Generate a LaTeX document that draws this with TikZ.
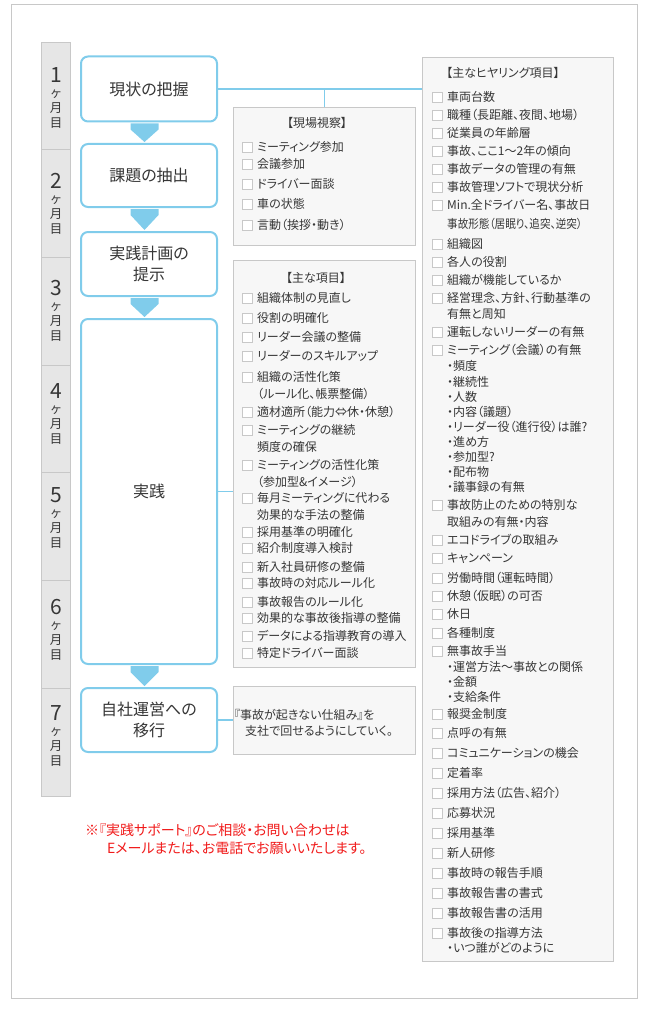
\documentclass[tikz,border=0pt]{standalone}
\usepackage{fontspec}
\newfontfamily\jpfont[RawFeature=+palt]{Noto Sans CJK JP}
\usepackage{tikz}
\usetikzlibrary{positioning,calc}

\definecolor{flowblue}{HTML}{80CCEB}
\definecolor{framegray}{HTML}{C8C8C8}
\definecolor{panelgray}{HTML}{F7F7F7}
\definecolor{monthgray}{HTML}{E6E6E6}
\definecolor{inkgray}{HTML}{363636}
\definecolor{notered}{HTML}{F01A1A}

% block arrow between two stage boxes
\newcommand\flowdown[2]{%
  \fill[flowfill] ($(#1.south)+(-18.5,1)$) -- ($(#1.south)+(9.5,1)$)
    -- ($(#1.south)+(9.5,7)$) -- ($(#2.north)+(-4.5,-1)$)
    -- ($(#1.south)+(-18.5,7)$) -- cycle;}

\begin{document}
\begin{tikzpicture}[
  x=1pt, y=-1pt,
  font=\jpfont, text=inkgray,
  monthcell/.style={draw=framegray, fill=monthgray, line width=0.8pt,
                    minimum width=29pt, minimum height=107.7pt, inner sep=0pt},
  monthnum/.style={font=\jpfont\fontsize{21}{21}\selectfont, inner sep=0pt},
  monthkana/.style={font=\jpfont\fontsize{12.5}{15}\selectfont, align=center,
                    inner sep=0pt},
  stagebox/.style={draw=flowblue, line width=2pt, rounded corners=7pt,
                   fill=white, minimum width=136pt, align=center,
                   font=\jpfont\fontsize{16}{21}\selectfont},
  panelbox/.style={draw=framegray, fill=panelgray, line width=0.8pt,
                   inner sep=0pt},
  listhead/.style={font=\jpfont\fontsize{12}{14}\selectfont, inner sep=0pt},
  listitem/.style={anchor=west, inner sep=0pt,
                   font=\jpfont\fontsize{12}{14}\selectfont},
  chkbox/.style={draw=framegray, fill=white, line width=0.6pt,
                 minimum size=10pt, inner sep=0pt},
  linkline/.style={draw=flowblue, line width=1.8pt},
  flowfill/.style={fill=flowblue},
  notetext/.style={anchor=west, inner sep=0pt, text=notered,
                   font=\jpfont\fontsize{14}{16}\selectfont},
]
\useasboundingbox (0,0) rectangle (650,1011);
\draw[framegray, line width=0.8pt] (11,4) rectangle (637,998);

% months
\foreach \i/\d in {1/75,2/181,3/288,4/391,5/495,6/607,7/713}{
  \node[monthcell] (m\i) at (55.5,{42+(\i-0.5)*107.7}) {};
  \node[monthnum] (n\i) at (56,\d) {\i};
  \node[monthkana] (k\i) at (56,\d+34) {ヶ\\月\\目};
}

% stages
\node[stagebox, minimum height=65pt] (b1) at (149,89) {現状の把握};
\node[stagebox, minimum height=63pt] (b2) at (149,175.5) {課題の抽出};
\node[stagebox, minimum height=64pt] (b3) at (149,264) {実践計画の\\提示};
\node[stagebox, minimum height=345pt] (b4) at (149,491.5) {実践};
\node[stagebox, minimum height=64pt] (b5) at (149,720) {自社運営への\\移行};

\flowdown{b1}{b2}
\flowdown{b2}{b3}
\flowdown{b3}{b4}
\flowdown{b4}{b5}

% panels
\node[panelbox, minimum width=182pt, minimum height=138pt] (site) at (324.5,176.5) {};
\node[panelbox, minimum width=182pt, minimum height=407pt] (items) at (324.5,464) {};
\node[panelbox, minimum width=182pt, minimum height=68pt] (goal) at (324.5,720.5) {};
\node[panelbox, minimum width=191pt, minimum height=904pt] (hear) at (518,509.5) {};

\draw[linkline] (b1.east) -- (b1.east -| hear.west);
\draw[linkline] (site.north) -- (site.north |- b1.east);
\draw[linkline] (b4.east) -- (b4.east -| items.west);
\draw[linkline] (b5.east) -- (b5.east -| goal.west);

% site visit
\node[listhead] (sitehead) at (317,123) {【現場視察】};
\foreach \y/\t in {147/ミーティング参加,164/会議参加,184/ドライバー面談,
                   204/車の状態,225/言動（挨拶・動き）}{
  \node[chkbox] (sc\y) at (247,\y) {};
  \node[listitem] (st\y) at (257,\y) {\t};
}

% main items
\node[listhead] (itemhead) at (316,278) {【主な項目】};
\foreach \y/\t in {298/組織体制の見直し,318/役割の明確化,337/リーダー会議の整備,
                   356/リーダーのスキルアップ,377/組織の活性化策,
                   412/適材適所（能力⇔休・休憩）,430/ミーティングの継続,
                   465/ミーティングの活性化策,498/毎月ミーティングに代わる,
                   532/採用基準の明確化,548/紹介制度導入検討,567/新入社員研修の整備,
                   583/事故時の対応ルール化,602/事故報告のルール化,
                   618/効果的な事故後指導の整備,636/データによる指導教育の導入,
                   653/特定ドライバー面談}{
  \node[chkbox] (ic\y) at (247,\y) {};
  \node[listitem] (it\y) at (257,\y) {\t};
}
\foreach \y/\t in {394/（ルール化、帳票整備）,447/頻度の確保,
                   482/（参加型\&イメージ）,515/効果的な手法の整備}{
  \node[listitem] (is\y) at (257,\y) {\t};
}

% goal
\node[listitem] (g1) at (234,715) {『事故が起きない仕組み』を};
\node[listitem] (g2) at (245,731) {支社で回せるようにしていく。};

% hearing items
\node[listhead] (hearhead) at (503,73) {【主なヒヤリング項目】};
\foreach \y/\t in {97/車両台数,115/職種（長距離、夜間、地場）,133/従業員の年齢層,
                   151/事故、ここ1〜2年の傾向,169/事故データの管理の有無,
                   187/事故管理ソフトで現状分析,205/Min.全ドライバー名、事故日,
                   244/組織図,262/各人の役割,280/組織が機能しているか,
                   298/経営理念、方針、行動基準の,332/運転しないリーダーの有無,
                   350/ミーティング（会議）の有無,505/事故防止のための特別な,
                   540/エコドライブの取組み,558/キャンペーン,578/労働時間（運転時間）,
                   596/休憩（仮眠）の可否,614/休日,633/各種制度,651/無事故手当,
                   714/報奨金制度,733/点呼の有無,753/コミュニケーションの機会,
                   773/定着率,793/採用方法（広告、紹介）,813/応募状況,833/採用基準,
                   853/新人研修,873/事故時の報告手順,893/事故報告書の書式,
                   913/事故報告書の活用,933/事故後の指導方法}{
  \node[chkbox] (hc\y) at (437,\y) {};
  \node[listitem] (ht\y) at (447,\y) {\t};
}
\node[listitem] (hs224) at (447,224) {\scalebox{0.88}[1]{事故形態（居眠り、追突、逆突）}};
\foreach \y/\t in {314/有無と周知,366/・頻度,382/・継続性,397/・人数,412/・内容（議題）,
                   427/・リーダー役（進行役）は誰?,442/・進め方,457/・参加型?,
                   472/・配布物,487/・議事録の有無,522/取組みの有無・内容,
                   667/・運営方法〜事故との関係,682/・金額,697/・支給条件,
                   948/・いつ誰がどのように}{
  \node[listitem] (hs\y) at (447,\y) {\t};
}

% note
\node[notetext] (note1) at (85,830) {※『実践サポート』のご相談・お問い合わせは};
\node[notetext] (note2) at (107,848) {Eメールまたは、お電話でお願いいたします。};

\end{tikzpicture}
\end{document}
